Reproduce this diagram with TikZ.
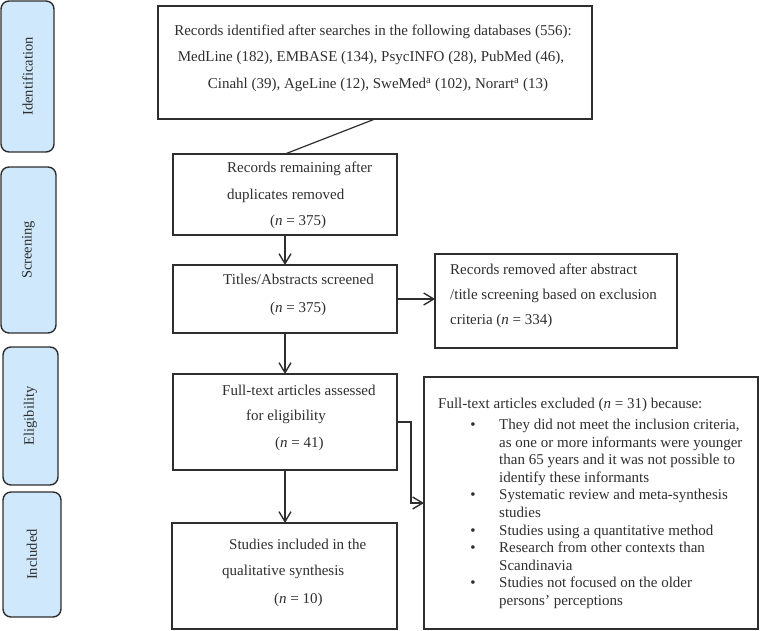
\documentclass[tikz,border=0pt]{standalone}
\usepackage{fontspec}
\setmainfont{Liberation Serif}
\usetikzlibrary{arrows.meta}
\definecolor{sidefill}{HTML}{CFE8FB}
\definecolor{edge}{HTML}{2E2E2E}
\begin{document}
\begin{tikzpicture}[x=1pt,y=-1pt,
  box/.style={draw=edge,line width=1.4pt,inner sep=0pt,outer sep=0pt,anchor=north west},
  side/.style={box,fill=sidefill,rounded corners=8pt},
  sidetxt/.style={rotate=90,inner sep=0pt,font=\fontsize{14.5}{17}\selectfont,text=edge},
  txt/.style={inner sep=0pt,anchor=west,font=\fontsize{15}{18}\selectfont,text height=0.7em,text depth=0.22em,text=edge},
  ctxt/.style={txt,anchor=center},
  arr/.style={draw=edge,line width=1.4pt,-{Straight Barb[length=10pt,width=12pt,line width=1.4pt]}},
  conn/.style={draw=edge,line width=1.2pt}]
\useasboundingbox (0,0) rectangle (760,631);
% side labels
\node[side,minimum width=53pt,minimum height=151pt] (sid) at (1,1) {};
\node[sidetxt] (sidt) at (sid.center) {Identification};
\node[side,minimum width=55pt,minimum height=166pt] (sscr) at (1,167) {};
\node[sidetxt] (sscrt) at (sscr.center) {Screening};
\node[side,minimum width=55pt,minimum height=138pt] (selg) at (3,347) {};
\node[sidetxt] (selgt) at (selg.center) {Eligibility};
\node[side,minimum width=58pt,minimum height=125pt] (sinc) at (3,492) {};
\node[sidetxt] (sinct) at (sinc.center) {Included};
% boxes
\node[box,minimum width=434pt,minimum height=113pt] (top) at (158,6) {};
\node[box,minimum width=224pt,minimum height=81pt] (rem) at (173,154) {};
\node[box,minimum width=224pt,minimum height=68pt] (tit) at (173,265) {};
\node[box,minimum width=224pt,minimum height=96pt] (full) at (173,374) {};
\node[box,minimum width=225pt,minimum height=106pt] (inc) at (172,523) {};
\node[box,minimum width=242pt,minimum height=94pt] (remv) at (435,254) {};
\node[box,minimum width=334pt,minimum height=252pt] (excl) at (424,377) {};
% top text
\node[ctxt] (t1) at (373,33) {Records identified after searches in the following databases (556):};
\node[ctxt] (t2) at (371,59) {MedLine (182), EMBASE (134), PsycINFO (28), PubMed (46),};
\node[ctxt] (t3) at (378,86) {Cinahl (39), AgeLine (12), SweMed\textsuperscript{a} (102), Norart\textsuperscript{a} (13)};
% remaining
\node[txt] (r1) at (227,170) {Records remaining after};
\node[txt] (r2) at (227,197) {duplicates removed};
\node[txt] (r3) at (270,223) {(\textit{n} = 375)};
% titles
\node[txt] (ti1) at (223,282) {Titles/Abstracts screened};
\node[txt] (ti2) at (270,310) {(\textit{n} = 375)};
% full text
\node[txt] (f1) at (222,393) {Full-text articles assessed};
\node[txt] (f2) at (246,418) {for eligibility};
\node[txt] (f3) at (275,445) {(\textit{n} = 41)};
% included
\node[txt] (i1) at (229,547) {Studies included in the};
\node[txt] (i2) at (222,573) {qualitative synthesis};
\node[txt] (i3) at (274,601) {(\textit{n} = 10)};
% removed
\node[txt] (m1) at (450,272) {Records removed after abstract};
\node[txt] (m2) at (450,297) {/title screening based on exclusion};
\node[txt] (m3) at (450,322) {criteria (\textit{n} = 334)};
% excluded
\node[txt] (e0) at (438,406) {Full-text articles excluded (\textit{n} = 31) because:};
\node[ctxt] (b1) at (473,427) {•};
\node[txt] (e1) at (499,427) {They did not meet the inclusion criteria,};
\node[txt] (e2) at (499,444.6) {as one or more informants were younger};
\node[txt] (e3) at (499,462.2) {than 65 years and it was not possible to};
\node[txt] (e4) at (499,479.8) {identify these informants};
\node[ctxt] (b2) at (473,497.4) {•};
\node[txt] (e5) at (499,497.4) {Systematic review and meta-synthesis};
\node[txt] (e6) at (499,515) {studies};
\node[ctxt] (b3) at (473,532.6) {•};
\node[txt] (e7) at (499,532.6) {Studies using a quantitative method};
\node[ctxt] (b4) at (473,550.2) {•};
\node[txt] (e8) at (499,550.2) {Research from other contexts than};
\node[txt] (e9) at (499,567.8) {Scandinavia};
\node[ctxt] (b5) at (473,585.4) {•};
\node[txt] (e10) at (499,585.4) {Studies not focused on the older};
\node[txt] (e11) at (499,603) {persons’ perceptions};
% connectors
\draw[conn] (top.south) -- (rem.north);
\draw[arr] (rem.south) -- (tit.north);
\draw[arr] (tit.east) -- (tit.east -| remv.west);
\draw[arr] (tit.south) -- (full.south |- full.north);
\draw[arr] (full.south) -- (full.south |- inc.north);
\draw[arr] (full.east) -- ++(14,0) |- (excl.west);
\end{tikzpicture}
\end{document}
